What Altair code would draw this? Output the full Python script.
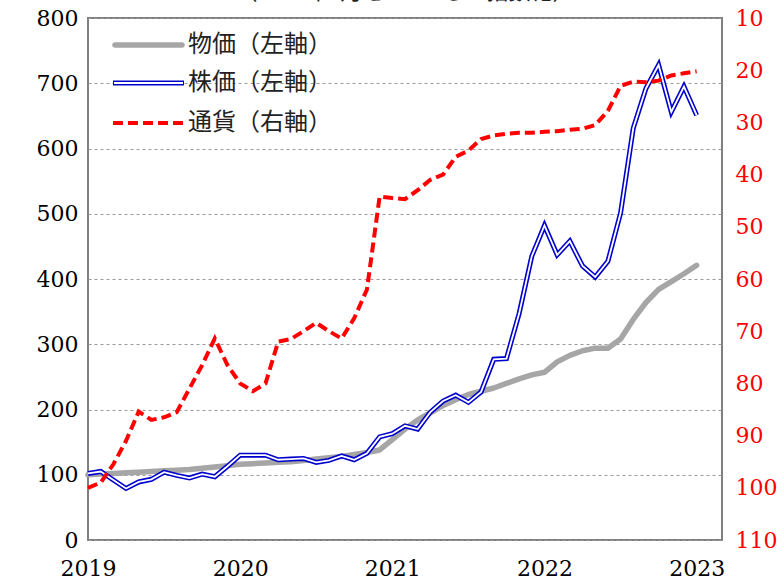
import altair as alt
import pandas as pd

# month index from 2019-01 (0) to 2023-01 (48)
months = list(range(49))
year_ticks = [0, 12, 24, 36, 48]

price = [100, 101, 102, 103, 104, 105, 106, 107, 108, 110, 112, 114, 116, 117, 118, 119,
         120, 122, 124, 126, 128, 131, 134, 138, 154, 170, 184, 195, 206, 215, 223, 228,
         233, 240, 247, 253, 257, 273, 283, 290, 294, 294, 308, 338, 364, 384, 396, 408, 421]

stock = [102, 105, 92, 79, 89, 93, 104, 99, 95, 101, 97, 113, 130, 130, 130, 123,
         124, 125, 119, 122, 129, 123, 133, 158, 163, 175, 170, 196, 213, 222, 211, 227,
         277, 278, 347, 435, 482, 437, 458, 420, 403, 427, 501, 631, 692, 728, 656, 695, 651]

currency = [100, 99, 95.5, 91, 85.4, 87, 86.5, 85.5, 81, 76.5, 71.4, 76.5, 80, 81.5, 80, 72,
            71.5, 70, 68.4, 70, 71.4, 67.5, 62, 44.2, 44.5, 44.7, 43, 41, 40, 36.6, 35.4, 33.2,
            32.5, 32.2, 32, 32, 31.8, 31.7, 31.4, 31.2, 30.5, 27.8, 23, 22.2, 22.3, 22, 21, 20.6, 20.2]

legend_labels = ["物価（左軸）", "株価（左軸）", "通貨（右軸）"]
subtitle = "（2019年1月を100として指数化）"

serif = "DejaVu Serif"
cjk = "Noto Sans CJK JP"

x_enc = alt.X("m:Q",
              scale=alt.Scale(domain=[0, 50], nice=False, zero=False),
              axis=alt.Axis(values=year_ticks, labelExpr="toString(2019 + datum.value / 12)",
                            title=None, grid=False, ticks=False, domain=False,
                            labelFont=serif, labelFontSize=22, labelColor="black",
                            labelPadding=18, labelFlush=False, labelOverlap=False))

yl_enc = alt.Y("v:Q",
               scale=alt.Scale(domain=[0, 800], nice=False, zero=True),
               axis=alt.Axis(values=list(range(0, 801, 100)), title=None, grid=True,
                             gridColor="#9a9a9a", gridDash=[3, 3], gridWidth=1,
                             ticks=False, domain=False, labelFont=serif, labelFontSize=22,
                             labelColor="black", labelPadding=10, labelFlush=False,
                             labelOverlap=False))

yr_enc = alt.Y("v:Q",
               scale=alt.Scale(domain=[10, 110], reverse=True, nice=False, zero=False),
               axis=alt.Axis(orient="right", values=list(range(10, 111, 10)), title=None,
                             grid=False, ticks=False, domain=False, labelFont=serif,
                             labelFontSize=22, labelColor="#ff0000", labelPadding=13,
                             labelFlush=False, labelOverlap=False))

df_price = pd.DataFrame({"m": months, "v": price})
df_stock = pd.DataFrame({"m": months, "v": stock})
df_cur = pd.DataFrame({"m": months, "v": currency})
one = pd.DataFrame({"a": [0]})

grey = alt.Chart(df_price).mark_line(color="#a6a6a6", strokeWidth=5.5, strokeCap="round",
                                     strokeJoin="round").encode(x=x_enc, y=yl_enc)
blue = alt.Chart(df_stock).mark_line(color="#0000cd", strokeWidth=5).encode(x=x_enc, y=yl_enc)
white = alt.Chart(df_stock).mark_line(color="white", strokeWidth=1.8).encode(x=x_enc, y=yl_enc)

# legend
leg_y = [27, 65, 105]
lg_grey = alt.Chart(one).mark_rule(color="#a6a6a6", strokeWidth=5.5, strokeCap="round").encode(
    x=alt.value(27), x2=alt.value(94), y=alt.value(leg_y[0]))
lg_blue = alt.Chart(one).mark_rule(color="#0000cd", strokeWidth=5).encode(
    x=alt.value(25), x2=alt.value(96), y=alt.value(leg_y[1]))
lg_white = alt.Chart(one).mark_rule(color="white", strokeWidth=1.8).encode(
    x=alt.value(26), x2=alt.value(95), y=alt.value(leg_y[1]))
lg_red = alt.Chart(one).mark_rule(color="#ff0000", strokeWidth=4, strokeDash=[10, 5]).encode(
    x=alt.value(25), x2=alt.value(96), y=alt.value(leg_y[2]))
lg_texts = [
    alt.Chart(one).mark_text(align="left", baseline="middle", font=cjk, fontSize=24,
                             color="#222222").encode(
        x=alt.value(100), y=alt.value(leg_y[i]), text=alt.value(legend_labels[i]))
    for i in range(3)
]
title_txt = alt.Chart(one).mark_text(align="center", baseline="bottom", font=cjk, fontSize=22,
                                     color="#222222").encode(
    x=alt.value(317), y=alt.value(-14), text=alt.value(subtitle))

left = alt.layer(grey, blue, white, lg_grey, lg_blue, lg_white, lg_red, *lg_texts, title_txt)
red = alt.Chart(df_cur).mark_line(color="#ff0000", strokeWidth=4, strokeDash=[10, 5]).encode(
    x=x_enc, y=yr_enc)

chart = alt.layer(left, red).resolve_scale(y="independent").properties(
    width=634, height=522, autosize="none",
    padding={"left": 88, "top": 18, "right": 62, "bottom": 41},
    background="white",
).configure_view(stroke="#808080", strokeWidth=2)

chart.save("out.html", embed_options={"renderer": "svg", "actions": False})
